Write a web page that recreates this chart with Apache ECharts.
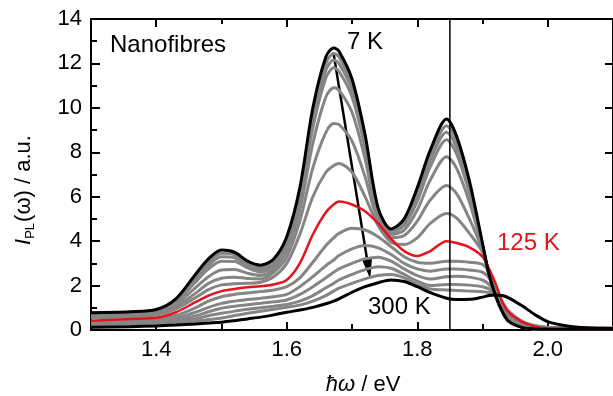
<!DOCTYPE html>
<html><head><meta charset="utf-8">
<script src="https://cdn.jsdelivr.net/npm/echarts@6/dist/echarts.min.js"></script>
<style>html,body{margin:0;padding:0;background:#fff}#c{width:613px;height:396px}</style>
</head><body><div id="c"></div>
<script>
// photon energy (eV)
const energy = [1.30,1.36,1.40,1.43,1.46,1.48,1.50,1.52,1.54,1.56,1.58,1.60,
  1.62,1.64,1.66,1.672,1.68,1.70,1.72,1.74,1.76,1.78,1.80,1.82,1.845,1.86,1.88,
  1.90,1.91,1.92,1.93,1.94,1.96,1.98,2.00,2.03,2.06,2.10];

// PL intensity, 7 K (black, top)
const pl7K = [0.78,0.82,0.92,1.4,2.5,3.2,3.6,3.5,3.1,2.92,3.2,4.2,
  6.4,10.0,12.3,12.7,12.55,11.3,8.8,5.5,4.55,5.0,6.4,8.1,9.5,8.75,6.7,
  3.9,2.5,1.55,0.85,0.4,0.12,0.05,0.03,0.03,0.03,0.03];
// intermediate temperatures above 125 K curve (gray)
const plG1 = [0.76,0.8,0.9,1.35,2.4,3.05,3.45,3.38,3.0,2.8,3.1,4.1,
  6.2,9.7,12.0,12.45,12.3,11.0,8.6,5.4,4.5,4.9,6.2,7.85,9.2,8.5,6.5,
  3.85,2.5,1.55,0.85,0.4,0.13,0.05,0.04,0.03,0.03,0.03];
const plG2 = [0.74,0.78,0.88,1.3,2.3,2.92,3.3,3.25,2.9,2.7,3.0,4.0,
  6.0,9.4,11.7,12.15,12.0,10.8,8.4,5.3,4.45,4.8,6.0,7.65,8.9,8.25,6.35,
  3.8,2.5,1.55,0.85,0.4,0.13,0.05,0.04,0.03,0.03,0.03];
const plG3 = [0.72,0.76,0.85,1.25,2.15,2.75,3.1,3.08,2.8,2.6,2.9,3.9,
  5.8,9.1,11.35,11.8,11.65,10.5,8.2,5.2,4.4,4.7,5.8,7.35,8.56,7.95,6.15,
  3.75,2.5,1.55,0.85,0.4,0.13,0.05,0.04,0.03,0.03,0.03];
const plG4 = [0.68,0.72,0.8,1.15,1.9,2.4,2.7,2.72,2.55,2.45,2.75,3.6,
  5.4,8.4,10.5,10.9,10.8,9.8,7.7,5.0,4.3,4.5,5.4,6.75,7.8,7.3,5.75,
  3.7,2.5,1.55,0.85,0.4,0.13,0.05,0.04,0.03,0.03,0.03];
const plG5 = [0.62,0.66,0.74,1.05,1.65,2.1,2.33,2.38,2.32,2.3,2.6,3.3,
  4.9,7.3,8.9,9.3,9.25,8.5,6.9,4.9,4.15,4.25,4.9,5.85,6.5,6.15,5.0,
  3.6,2.5,1.55,0.85,0.4,0.13,0.05,0.04,0.03,0.03,0.03];
const plG6 = [0.55,0.6,0.67,0.95,1.45,1.82,2.03,2.08,2.1,2.15,2.4,3.0,
  4.3,6.0,7.1,7.4,7.5,7.1,6.0,4.7,3.95,3.85,4.15,4.8,5.25,5.05,4.35,
  3.5,2.5,1.55,0.85,0.4,0.13,0.05,0.04,0.03,0.03,0.03];
// 125 K (red)
const pl125K = [0.42,0.5,0.55,0.8,1.25,1.55,1.75,1.85,1.92,1.97,2.05,2.25,
  3.0,4.3,5.3,5.65,5.78,5.65,5.35,4.8,4.1,3.55,3.33,3.55,4.0,3.92,3.72,
  3.3,2.75,2.1,1.3,0.8,0.38,0.16,0.07,0.04,0.03,0.03];
// intermediate temperatures below 125 K curve (gray)
const plG8 = [0.37,0.43,0.48,0.65,1.0,1.3,1.5,1.6,1.67,1.73,1.8,1.95,
  2.35,3.05,3.8,4.15,4.35,4.58,4.5,4.2,3.75,3.3,3.05,3.0,3.1,3.1,3.05,
  2.95,2.6,1.8,1.1,0.6,0.25,0.12,0.08,0.06,0.05,0.05];
const plG9 = [0.3,0.36,0.4,0.52,0.8,1.02,1.2,1.3,1.37,1.43,1.5,1.6,
  1.95,2.4,2.9,3.15,3.35,3.65,3.8,3.7,3.4,3.0,2.75,2.65,2.75,2.75,2.7,
  2.6,2.35,1.75,1.1,0.6,0.27,0.13,0.09,0.07,0.06,0.06];
const plG10 = [0.25,0.3,0.33,0.42,0.63,0.82,0.98,1.07,1.14,1.2,1.27,1.35,
  1.6,1.95,2.35,2.6,2.75,3.0,3.2,3.28,3.1,2.75,2.45,2.3,2.4,2.42,2.38,
  2.25,2.05,1.7,1.15,0.65,0.3,0.15,0.1,0.08,0.07,0.07];
const plG11 = [0.2,0.24,0.27,0.34,0.5,0.64,0.75,0.85,0.93,1.0,1.07,1.15,
  1.3,1.55,1.9,2.1,2.25,2.5,2.72,2.85,2.78,2.5,2.2,2.0,2.05,2.05,2.02,
  1.95,1.85,1.6,1.2,0.75,0.35,0.18,0.11,0.09,0.08,0.08];
const plG12 = [0.16,0.19,0.22,0.27,0.38,0.47,0.54,0.65,0.75,0.84,0.93,1.02,
  1.12,1.3,1.55,1.75,1.88,2.1,2.3,2.45,2.5,2.35,2.05,1.85,1.8,1.78,1.75,
  1.72,1.68,1.55,1.25,0.85,0.4,0.2,0.12,0.1,0.09,0.09];
// 300 K (black, bottom)
const pl300K = [0.12,0.15,0.18,0.22,0.27,0.31,0.35,0.42,0.5,0.58,0.68,0.8,
  0.9,1.02,1.18,1.3,1.4,1.7,1.95,2.13,2.25,2.18,1.95,1.68,1.43,1.37,1.38,
  1.48,1.55,1.58,1.55,1.45,1.1,0.7,0.38,0.18,0.1,0.07];

const grayCurves = [plG1,plG2,plG3,plG4,plG5,plG6,plG8,plG9,plG10,plG11,plG12];

const xMajorTicks = [1.4,1.6,1.8,2.0];
const xMinorTicks = [1.3,1.5,1.7,1.9,2.1];
const markerEnergy = 1.85;
const arrowStart = [1.672,12.4];
const arrowEnd = [1.728,2.3];

const FONT = '"Liberation Sans", Arial, sans-serif';
const pairs = ys => energy.map((x,i)=>[x,ys[i]]);

function xAx(pos, vals, len, line, labels){
  return {type:'value',min:1.3,max:2.1,position:pos,
    axisLine:{show:line,onZero:false,lineStyle:{color:'#000',width:2}},
    axisTick:{show:true,inside:true,length:len,customValues:vals,lineStyle:{color:'#000',width:2}},
    axisLabel:labels?{show:true,customValues:vals,formatter:v=>v.toFixed(1),fontSize:22,color:'#000',fontFamily:FONT,margin:9}:{show:false},
    splitLine:{show:false}};
}
function yAx(pos, labels){
  return {type:'value',min:0,max:14,interval:2,position:pos,
    axisLine:{show:true,onZero:false,lineStyle:{color:'#000',width:2}},
    axisTick:{show:true,inside:true,length:pos==='left'?9:8,lineStyle:{color:'#000',width:2}},
    minorTick:{show:pos==='left',splitNumber:2,length:6,lineStyle:{color:'#000',width:2}},
    axisLabel:labels?{show:true,fontSize:22,color:'#000',fontFamily:FONT,margin:9}:{show:false},
    splitLine:{show:false}};
}

const series = [];
grayCurves.forEach(c=>series.push({type:'line',data:pairs(c),showSymbol:false,smooth:0.3,
  lineStyle:{color:'#858585',width:3},silent:true}));
series.push({type:'line',data:pairs(pl125K),showSymbol:false,smooth:0.3,lineStyle:{color:'#e3141c',width:2.5},silent:true});
series.push({type:'line',data:pairs(pl300K),showSymbol:false,smooth:0.3,lineStyle:{color:'#000',width:3},silent:true});
series.push({type:'line',data:pairs(pl7K),showSymbol:false,smooth:0.3,lineStyle:{color:'#000',width:3},silent:true});
series.push({type:'line',data:[[markerEnergy,0],[markerEnergy,14]],showSymbol:false,lineStyle:{color:'#000',width:1.5},silent:true});
series.push({type:'custom',data:[[arrowStart[0],arrowStart[1],arrowEnd[0],arrowEnd[1]]],
  encode:{x:[0,2],y:[1,3]},silent:true,
  renderItem:(params,api)=>{
    const p1=api.coord([api.value(0),api.value(1)]);
    const p2=api.coord([api.value(2),api.value(3)]);
    const dx=p2[0]-p1[0], dy=p2[1]-p1[1], L=Math.hypot(dx,dy);
    const ux=dx/L, uy=dy/L, nx=-uy, ny=ux;
    const hl=20, hw=5;
    const b=[p2[0]-ux*hl,p2[1]-uy*hl];
    return {type:'group',children:[
      {type:'line',shape:{x1:p1[0],y1:p1[1],x2:b[0]+ux*2,y2:b[1]+uy*2},style:{stroke:'#000',lineWidth:2.5}},
      {type:'polygon',shape:{points:[p2,[b[0]+nx*hw,b[1]+ny*hw],[b[0]-nx*hw,b[1]-ny*hw]]},style:{fill:'#000'}}
    ]};
  }});

const txt = (x,y,text,color,align) => ({type:'text',x:x,y:y,silent:true,
  style:{text:text,font:'24px '+FONT,fill:color||'#000',textAlign:align||'left',textVerticalAlign:'middle'}});

const chart = echarts.init(document.getElementById('c'));
chart.setOption({
  animation:false,
  backgroundColor:'#fff',
  grid:{left:91,right:-6,top:19,bottom:66,containLabel:false},
  xAxis:[xAx('bottom',xMajorTicks,8,true,true),xAx('bottom',xMinorTicks,6,false,false),
         xAx('top',xMajorTicks,8,true,false),xAx('top',xMinorTicks,5,false,false)],
  yAxis:[yAx('left',true),yAx('right',false)],
  series:series,
  graphic:[
    txt(110,45,'Nanofibres'),
    txt(347,42,'7 K'),
    txt(497,243,'125 K','#e3141c'),
    txt(368,307,'300 K'),
    {type:'text',x:363,y:385,silent:true,style:{text:'{it|ħω}{n| / eV}',textAlign:'center',textVerticalAlign:'middle',
      rich:{it:{fontSize:22,fontStyle:'italic',fontFamily:FONT,fill:'#000'},n:{fontSize:22,fontFamily:FONT,fill:'#000'}}}},
    {type:'text',x:24,y:190,rotation:Math.PI/2,silent:true,style:{text:'{i|I}{s|PL}{n|(ω) / a.u.}',textAlign:'center',textVerticalAlign:'middle',
      rich:{i:{fontSize:22,fontStyle:'italic',fontFamily:FONT,fill:'#000'},
            s:{fontSize:13,fontFamily:FONT,fill:'#000',padding:[12,1,0,0]},
            n:{fontSize:22,fontFamily:FONT,fill:'#000'}}}}
  ]
});
</script></body></html>
